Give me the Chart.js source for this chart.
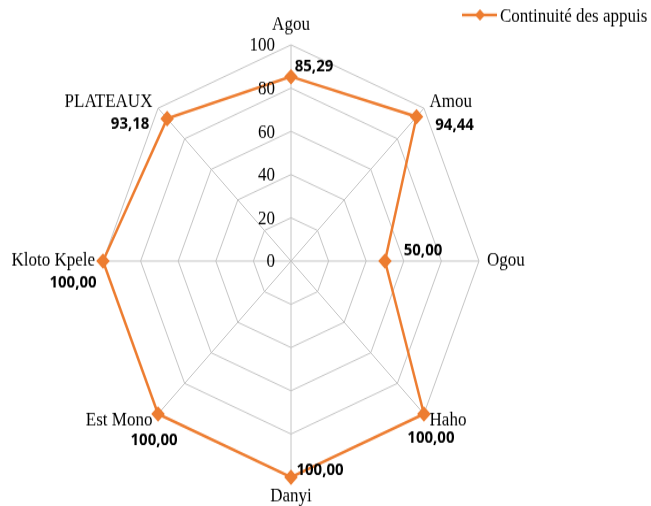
<!DOCTYPE html>
<html>
<head>
<meta charset="utf-8">
<script src="https://cdn.jsdelivr.net/npm/chart.js@4/dist/chart.umd.min.js"></script>
<style>
  html, body { margin: 0; padding: 0; background: #fff; overflow: hidden; }
  #page { width: 651px; height: 506px; position: relative; overflow: hidden; }
  /* the reference picture is stretched vertically, so the canvas is too */
  #wrap { position: absolute; left: 0; top: 0; width: 651px; height: 440px; transform: scaleY(1.15); transform-origin: 0 0; }
</style>
</head>
<body>
<div id="page"><div id="wrap"><canvas id="radarChart" width="651" height="440"></canvas></div></div>
<script>
  // chart data
  const categories = ["Agou", "Amou", "Ogou", "Haho", "Danyi", "Est Mono", "Kloto Kpele", "PLATEAUX"];
  const seriesName = "Continuité des appuis";
  const continuite = [85.29, 94.44, 50.00, 100, 100, 100, 100, 93.18];
  const tickValues = [0, 20, 40, 60, 80, 100];

  const STRETCH = 1.15;
  const ORANGE = "#ED7D31";
  const GRID = "#c4c4c4";

  // where each value label sits, relative to its point (reference pixels)
  const valueLabelOffsets = [
    [23, -10], [38, 8], [38, -11], [7, 24], [29, -7], [-4, 26], [-30, 22], [-37, 5]
  ];

  function fmt(v) {
    return v.toFixed(2).replace(".", ",");
  }

  const labelsPlugin = {
    id: "labelsPlugin",
    afterDraw(chart) {
      const ctx = chart.ctx;
      const scale = chart.scales.r;
      const cx = scale.xCenter;
      ctx.save();

      // tick labels, to the left of the vertical axis
      ctx.font = "17px 'Liberation Serif', 'Times New Roman', serif";
      ctx.fillStyle = "#000";
      ctx.textAlign = "right";
      ctx.textBaseline = "middle";
      tickValues.forEach(function (t) {
        const y = scale.yCenter - scale.getDistanceFromCenterForValue(t);
        ctx.fillText(String(t), cx - 16, y + 1);
      });

      // category labels around the web
      categories.forEach(function (name, i) {
        const probe = scale.getPointPosition(i, scale.drawingArea);
        const vertical = Math.abs(probe.x - cx) < 1;
        const pos = scale.getPointPosition(i, scale.drawingArea + (vertical ? 17 : 8));
        if (vertical) ctx.textAlign = "center";
        else if (pos.x > cx) ctx.textAlign = "left";
        else ctx.textAlign = "right";
        ctx.textBaseline = "middle";
        ctx.fillText(name, pos.x, pos.y);
      });

      // value labels
      ctx.font = "bold 15px 'Noto Sans', 'Open Sans', sans-serif";
      ctx.textAlign = "center";
      const meta = chart.getDatasetMeta(0);
      meta.data.forEach(function (pt, i) {
        const off = valueLabelOffsets[i];
        ctx.fillText(fmt(continuite[i]), pt.x + off[0], pt.y + off[1] / STRETCH);
      });

      // legend, top right
      const ly = 15 / STRETCH;
      ctx.strokeStyle = ORANGE;
      ctx.lineWidth = 2.5;
      ctx.beginPath();
      ctx.moveTo(462, ly);
      ctx.lineTo(497, ly);
      ctx.stroke();
      ctx.fillStyle = ORANGE;
      ctx.beginPath();
      ctx.moveTo(480, ly - 5);
      ctx.lineTo(485, ly);
      ctx.lineTo(480, ly + 5);
      ctx.lineTo(475, ly);
      ctx.closePath();
      ctx.fill();
      ctx.fillStyle = "#000";
      ctx.font = "17px 'Liberation Serif', 'Times New Roman', serif";
      ctx.textAlign = "left";
      ctx.textBaseline = "middle";
      ctx.fillText(seriesName, 500, ly + 1);

      ctx.restore();
    }
  };

  const ctx = document.getElementById("radarChart").getContext("2d");
  const radarChart = new Chart(ctx, {
    type: "radar",
    data: {
      labels: categories,
      datasets: [{
        label: seriesName,
        data: continuite,
        borderColor: ORANGE,
        backgroundColor: "rgba(0,0,0,0)",
        borderWidth: 2.5,
        fill: false,
        pointStyle: "rectRot",
        pointRadius: 5,
        pointBackgroundColor: ORANGE,
        pointBorderColor: ORANGE,
        tension: 0
      }]
    },
    options: {
      responsive: false,
      animation: false,
      layout: {
        padding: { left: 103, right: 172, top: 39, bottom: 25 }
      },
      plugins: {
        legend: { display: false },
        tooltip: { enabled: false }
      },
      scales: {
        r: {
          min: 0,
          max: 100,
          ticks: { stepSize: 20, display: false },
          pointLabels: { display: false },
          grid: { color: GRID, lineWidth: 1, circular: false },
          angleLines: { color: GRID, lineWidth: 1 }
        }
      }
    },
    plugins: [labelsPlugin]
  });
</script>
</body>
</html>
